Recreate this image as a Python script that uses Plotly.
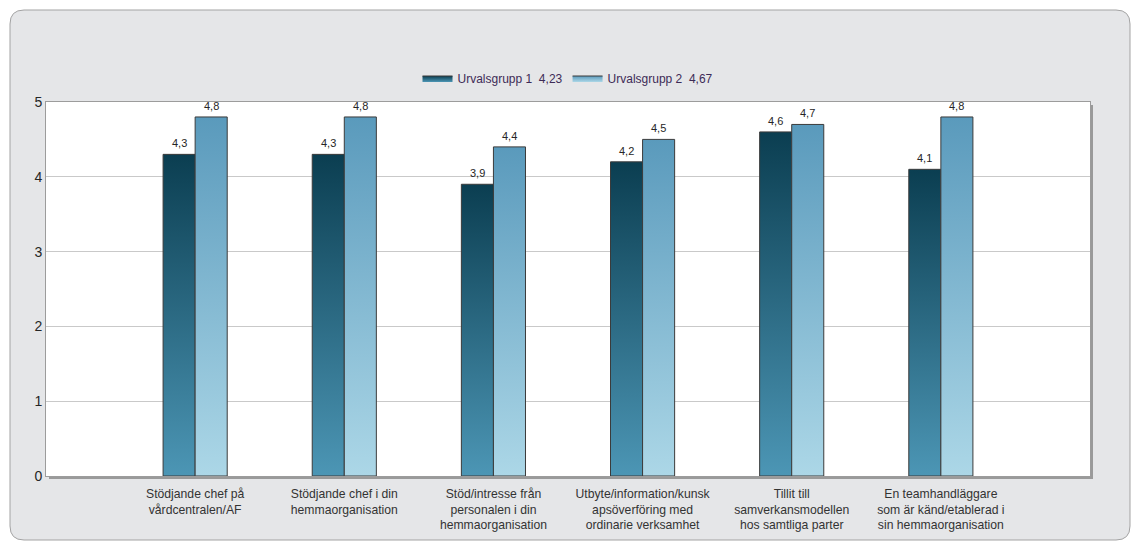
import plotly.graph_objects as go

# --- data -------------------------------------------------------------
categories = [
    "Stödjande chef på<br>vårdcentralen/AF",
    "Stödjande chef i din<br>hemmaorganisation",
    "Stöd/intresse från<br>personalen i din<br>hemmaorganisation",
    "Utbyte/information/kunsk<br>apsöverföring med<br>ordinarie verksamhet",
    "Tillit till<br>samverkansmodellen<br>hos samtliga parter",
    "En teamhandläggare<br>som är känd/etablerad i<br>sin hemmaorganisation",
]
group1 = [4.3, 4.3, 3.9, 4.2, 4.6, 4.1]
group2 = [4.8, 4.8, 4.4, 4.5, 4.7, 4.8]
series_names = ["Urvalsgrupp 1", "Urvalsgrupp 2"]
series_means = [4.23, 4.67]
y_ticks = [0, 1, 2, 3, 4, 5]

# --- styling ----------------------------------------------------------
W, H = 1133, 542
ML, MR, MT, MB = 46, 43, 102, 66
PW, PH = W - ML - MR, H - MT - MB

BAR_W = 0.215
gradients = [
    [[0, "#4c96b5"], [1, "#0b3e51"]],   # Urvalsgrupp 1: dark teal
    [[0, "#acd7e7"], [1, "#5a9abc"]],   # Urvalsgrupp 2: light blue
]
legend_fill = ["#1f5a70", "#7fb8d3"]
OUTLINE = "#3b3b3b"
FONT = "Liberation Sans, Arial, sans-serif"


def comma(v, nd=1):
    return f"{v:.{nd}f}".replace(".", ",")


def px_to_paper(px, py):
    return (px - ML) / PW, (MT + PH - py) / PH


fig = go.Figure()
annotations = []

for s, (values, name, mean) in enumerate(zip([group1, group2], series_names, series_means)):
    x0 = -BAR_W if s == 0 else 0.0
    for i, v in enumerate(values):
        left, right = i + x0, i + x0 + BAR_W
        fig.add_trace(go.Scatter(
            x=[left, left, right, right, left],
            y=[0, v, v, 0, 0],
            mode="lines",
            fill="toself",
            fillcolor=legend_fill[s],
            fillgradient=dict(type="vertical", colorscale=gradients[s]),
            line=dict(color=OUTLINE, width=1),
            name=f"{name}\u00a0\u00a0{comma(mean, 2)}",
            legendgroup=name,
            showlegend=(i == 0),
            hovertemplate=f"{name}<br>{comma(v)}<extra></extra>",
        ))
        # value label above the bar
        annotations.append(dict(
            x=i + x0 + BAR_W / 2, y=v, xref="x", yref="y",
            text=comma(v), showarrow=False,
            yanchor="bottom", yshift=3,
            font=dict(size=11, color="#262626", family=FONT),
        ))

# rounded outer panel (drawn in pixel terms, converted to paper coordinates)
r = 14
x1p, y1p, x2p, y2p = 10, 10, 1130, 540
rx, ry = r / PW, r / PH
ax, ay = px_to_paper(x1p, y1p)
bx, by = px_to_paper(x2p, y2p)
panel_path = (
    f"M {ax + rx},{ay} L {bx - rx},{ay} Q {bx},{ay} {bx},{ay - ry} "
    f"L {bx},{by + ry} Q {bx},{by} {bx - rx},{by} "
    f"L {ax + rx},{by} Q {ax},{by} {ax},{by + ry} "
    f"L {ax},{ay - ry} Q {ax},{ay} {ax + rx},{ay} Z"
)
sx, sy = 3 / PW, 3 / PH
shapes = [
    dict(type="path", xref="paper", yref="paper", path=panel_path,
         fillcolor="#e5e6e8", line=dict(color="#a3a3a3", width=1), layer="below"),
    # shadow strips on the right and bottom of the plotting area
    dict(type="rect", xref="paper", yref="paper",
         x0=1, x1=1 + sx, y0=-sy, y1=1 - sy,
         fillcolor="#9a9a9a", line=dict(width=0), layer="below"),
    dict(type="rect", xref="paper", yref="paper",
         x0=sx, x1=1 + sx, y0=-sy, y1=0,
         fillcolor="#9a9a9a", line=dict(width=0), layer="below"),
    # white plotting surface
    dict(type="rect", xref="paper", yref="paper",
         x0=0, x1=1, y0=0, y1=1,
         fillcolor="white", line=dict(width=0), layer="below"),
]

fig.update_layout(
    width=W, height=H,
    margin=dict(l=ML, r=MR, t=MT, b=MB, pad=0, autoexpand=False),
    paper_bgcolor="white",
    plot_bgcolor="white",
    font=dict(family=FONT, color="#262626"),
    shapes=shapes,
    annotations=annotations,
    showlegend=True,
    legend=dict(
        orientation="h",
        x=0.5, xanchor="center",
        y=(MT + PH - 78) / PH, yanchor="middle",
        bgcolor="rgba(0,0,0,0)",
        font=dict(size=12, color="#3d2b56", family=FONT),
        itemwidth=30,
        tracegroupgap=0,
    ),
    xaxis=dict(
        range=[-1, 6],
        tickmode="array",
        tickvals=list(range(len(categories))),
        ticktext=categories,
        tickfont=dict(size=12.2, color="#333333", family=FONT),
        ticklabelstandoff=6,
        automargin=False,
        showgrid=False,
        zeroline=False,
        showline=True, mirror=True, linecolor="#9c9c9c", linewidth=1,
        ticks="",
        fixedrange=True,
    ),
    yaxis=dict(
        range=[0, 5],
        tickmode="array",
        tickvals=y_ticks,
        ticktext=[str(t) for t in y_ticks],
        tickfont=dict(size=14, color="#262626", family=FONT),
        automargin=False,
        showgrid=True, gridcolor="#c9c9c9", gridwidth=1,
        zeroline=False,
        showline=True, mirror=True, linecolor="#9c9c9c", linewidth=1,
        ticks="",
        fixedrange=True,
    ),
)

fig.write_html("out.html")
